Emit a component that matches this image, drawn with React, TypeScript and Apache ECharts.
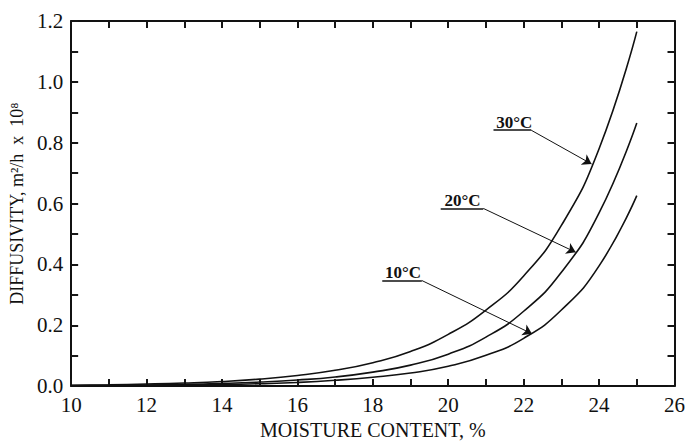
import React, { useEffect, useRef } from "react";
import * as echarts from "echarts";

const moisture = [10, 11, 12, 13, 14, 15, 16, 17, 18, 19, 20, 21, 22, 23, 24, 25];
const d30 = [0.003, 0.0045, 0.0067, 0.010, 0.015, 0.023, 0.035, 0.052, 0.077, 0.114, 0.170, 0.250, 0.362, 0.528, 0.780, 1.165];
const d20 = [0.0016, 0.0025, 0.0038, 0.0058, 0.0088, 0.0133, 0.020, 0.030, 0.046, 0.069, 0.105, 0.161, 0.246, 0.374, 0.569, 0.865];
const d10 = [0.0008, 0.0013, 0.002, 0.0032, 0.005, 0.0078, 0.012, 0.019, 0.029, 0.043, 0.065, 0.101, 0.157, 0.250, 0.395, 0.626];

const labelNames = ["30°C", "20°C", "10°C"];
// label text centre, underline start/end, arrow tip (data coordinates)
const labelText = [[21.75, 0.868], [20.38, 0.61], [18.8, 0.373]];
const underlineStart = [[21.2, 0.841], [19.8, 0.584], [18.25, 0.347]];
const underlineEnd = [[22.2, 0.841], [20.93, 0.584], [19.3, 0.347]];
const arrowTip = [[23.8, 0.73], [23.38, 0.44], [22.22, 0.172]];

const FONT = "'Liberation Serif', 'Times New Roman', serif";
const INK = "#111";

export default function App() {
  const ref = useRef<HTMLDivElement>(null);
  useEffect(() => {
    if (!ref.current) return;
    const chart = echarts.init(ref.current, undefined, { renderer: "svg" });
    const mk = (vals: number[]) => moisture.map((m, i) => [m, vals[i]]);
    const curve = (name: string, vals: number[]) => ({
      name,
      type: "line",
      data: mk(vals),
      smooth: 0.5,
      showSymbol: false,
      lineStyle: { color: INK, width: 1.6 },
      xAxisIndex: 0,
      yAxisIndex: 0,
    });
    const lineData: any[] = [];
    labelNames.forEach((_, i) => {
      lineData.push([
        { coord: underlineStart[i], symbol: "none", lineStyle: { width: 1.6 } },
        { coord: underlineEnd[i], symbol: "none" },
      ]);
      lineData.push([
        { coord: underlineEnd[i], symbol: "none" },
        { coord: arrowTip[i], symbol: "arrow", symbolSize: 9 },
      ]);
    });
    const pointData = labelNames.map((n, i) => ({
      coord: labelText[i],
      value: n,
      symbol: "rect",
      symbolSize: 0,
      label: {
        show: true,
        position: "inside",
        formatter: n,
        color: INK,
        fontFamily: FONT,
        fontWeight: "bold",
        fontSize: 17,
      },
    }));
    const mkAxisLine = (c: string) => ({ show: true, onZero: false, lineStyle: { color: c, width: 2 } });
    const mkTick = (c: string) => ({ show: true, inside: true, length: 7, lineStyle: { color: c, width: 2 } });
    const mkMinor = (c: string) => ({ show: true, splitNumber: 2, length: 7, lineStyle: { color: c, width: 2 } });
    chart.setOption({
      animation: false,
      backgroundColor: "#fff",
      grid: { left: 71, right: 12, top: 21, bottom: 51, containLabel: false },
      xAxis: [
        {
          type: "value",
          min: 10,
          max: 26,
          interval: 2,
          position: "bottom",
          show: true,
          name: "MOISTURE CONTENT, %",
          nameLocation: "middle",
          nameGap: 29,
          nameTextStyle: { fontFamily: FONT, fontSize: 20, color: INK },
          axisLine: mkAxisLine("#111"),
          axisTick: mkTick("#151515"),
          minorTick: mkMinor("#181818"),
          axisLabel: { fontFamily: FONT, fontSize: 21, color: INK, margin: 8 },
          splitLine: { show: false },
        },
        {
          type: "value",
          min: 10,
          max: 26,
          interval: 2,
          position: "top",
          show: true,
          axisLine: mkAxisLine("#121212"),
          axisTick: mkTick("#141414"),
          minorTick: mkMinor("#161616"),
          axisLabel: { show: false },
          splitLine: { show: false },
        },
      ],
      yAxis: [
        {
          type: "value",
          min: 0,
          max: 1.2,
          interval: 0.2,
          position: "left",
          show: true,
          name: "DIFFUSIVITY, m²/h  x  10⁸",
          nameLocation: "middle",
          nameRotate: 90,
          nameGap: 40,
          nameTextStyle: { fontFamily: FONT, fontSize: 18, color: INK },
          axisLine: mkAxisLine("#111"),
          axisTick: mkTick("#151515"),
          minorTick: mkMinor("#181818"),
          axisLabel: {
            fontFamily: FONT,
            fontSize: 21,
            color: INK,
            margin: 8,
            formatter: (v: number) => v.toFixed(1),
          },
          splitLine: { show: false },
        },
        {
          type: "value",
          min: 0,
          max: 1.2,
          interval: 0.2,
          position: "right",
          show: true,
          axisLine: mkAxisLine("#121212"),
          axisTick: mkTick("#141414"),
          minorTick: mkMinor("#161616"),
          axisLabel: { show: false },
          splitLine: { show: false },
        },
      ],
      series: [
        curve("30°C", d30),
        curve("20°C", d20),
        curve("10°C", d10),
        {
          name: "annotations",
          type: "line",
          data: [],
          xAxisIndex: 1,
          yAxisIndex: 1,
          markLine: {
            silent: true,
            symbol: ["none", "none"],
            label: { show: false },
            lineStyle: { color: INK, width: 1, type: "solid" },
            data: lineData,
          },
          markPoint: {
            silent: true,
            data: pointData,
          },
        },
      ],
    });
    return () => chart.dispose();
  }, []);
  return (
    <div
      ref={ref}
      style={{ position: "absolute", left: 0, top: 0, width: 688, height: 445 }}
    />
  );
}
